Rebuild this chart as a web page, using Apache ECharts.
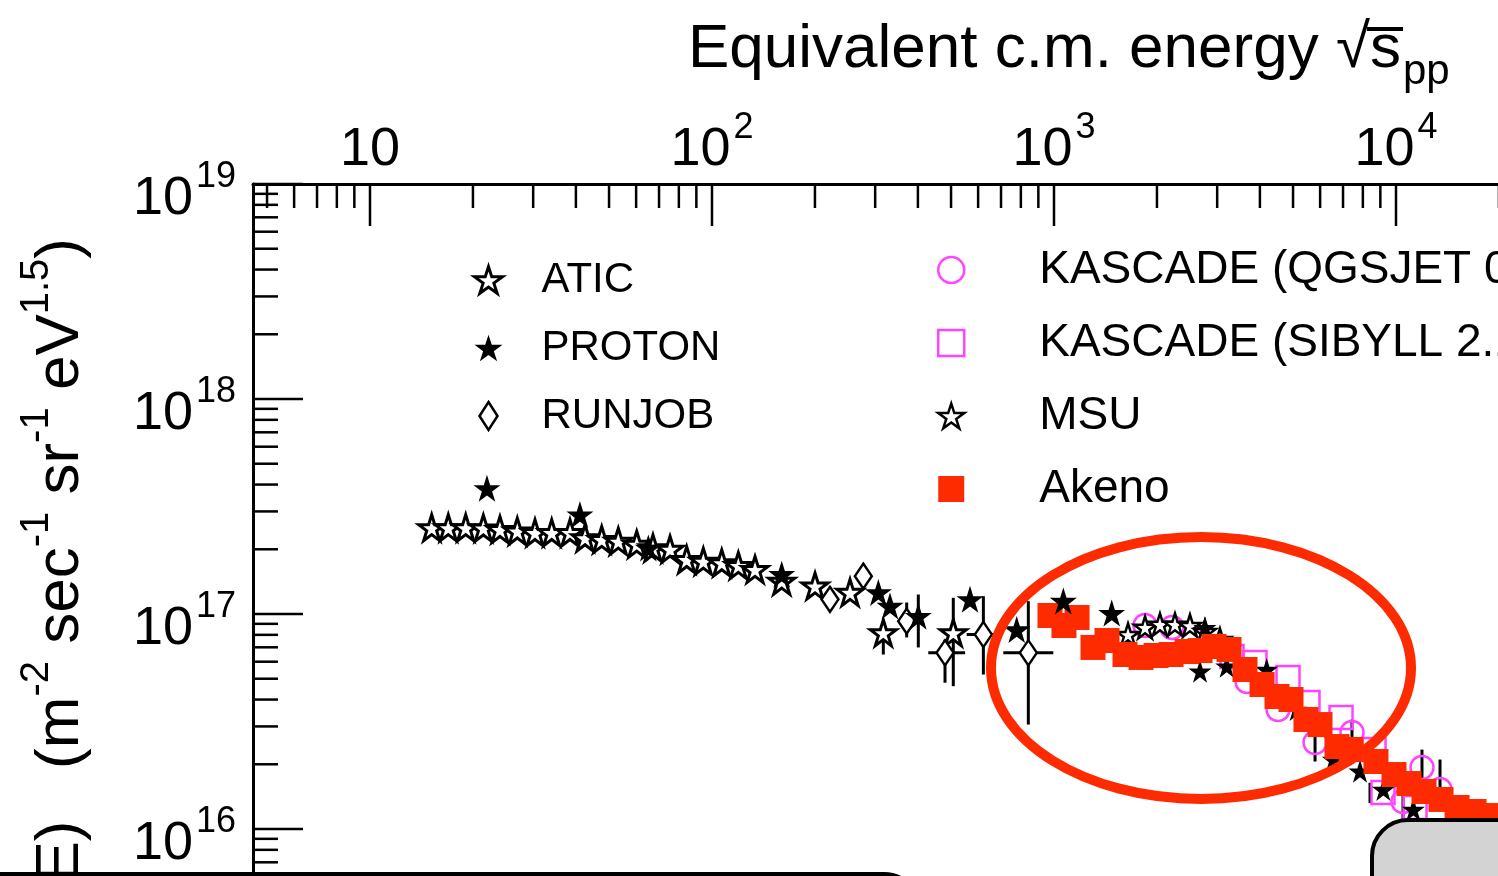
<!DOCTYPE html>
<html>
<head>
<meta charset="utf-8">
<script src="https://cdn.jsdelivr.net/npm/echarts@6.0.0/dist/echarts.min.js"></script>
<style>
  html, body { margin: 0; padding: 0; background: #ffffff; }
  #chart { width: 1498px; height: 876px; }
</style>
</head>
<body>
<div id="chart"></div>
<script>
// x: equivalent centre-of-mass energy sqrt(s_pp) [GeV], y: flux scaled by E^2.5
const FONT = '"Liberation Sans", Arial, Helvetica, sans-serif';
const X_MIN = 4.549, X_MAX = 1e5;
const Y_MIN = 1e15, Y_MAX = 1e19;

const aticData = [
  [15.15, 2.52e17], [16.94, 2.52e17], [19.05, 2.52e17], [21.45, 2.51e17], [23.99, 2.47e17],
  [26.96, 2.43e17], [30.37, 2.39e17], [33.99, 2.39e17], [38.44, 2.39e17], [42.54, 2.26e17],
  [47.59, 2.22e17], [53.21, 2.18e17], [60.24, 2.11e17], [67.21, 2.03e17], [75.39, 2.0e17],
  [84.34, 1.79e17], [94.32, 1.76e17], [106.8, 1.73e17], [119.4, 1.68e17], [133.6, 1.61e17],
  [159.9, 1.42e17], [200.1, 1.35e17], [253.3, 1.26e17], [316.9, 0.818e17], [507.6, 0.818e17]
];
const protonData = [
  [21.98, 3.84e17], [41.1, 2.90e17], [65.14, 2.03e17], [159.9, 1.53e17], [306.5, 1.26e17],
  [331.5, 1.09e17], [401.1, 0.977e17], [568.1, 1.17e17], [778, 0.847e17], [1065, 1.15e17],
  [1475, 1.01e17]
];
const kneeStarData = [
  [2763, 0.863e17], [2673, 0.542e17], [3199, 0.572e17], [4187, 0.552e17], [5124, 0.3595e17],
  [6557, 0.2104e17], [7849, 0.1857e17], [9183, 0.1527e17], [11240, 0.1232e17]
];
const runjobData = [
  [221.3, 1.17e17], [277, 1.50e17], [370.9, 0.926e17], [480.1, 0.660e17], [621.6, 0.803e17],
  [841.3, 0.660e17]
];
const msuData = [
  [1646, 0.803e17], [1846, 0.866e17], [2041, 0.894e17], [2258, 0.894e17], [2498, 0.884e17],
  [2763, 0.829e17], [3057, 0.761e17]
];
const akenoData = [
  [973.4, 0.984e17], [1069.5, 0.884e17], [1167.9, 0.963e17], [1300.2, 0.699e17], [1428.9, 0.753e17],
  [1613, 0.648e17], [1796.6, 0.628e17], [1987.8, 0.641e17], [2199.3, 0.648e17], [2449, 0.669e17],
  [2673, 0.676e17], [2937, 0.706e17], [3249, 0.684e17], [3618, 0.552e17], [4058, 0.470e17],
  [4488, 0.4133e17], [4932, 0.4003e17], [5455, 0.3231e17], [5995, 0.306e17], [6722, 0.2418e17],
  [7386, 0.2343e17], [8738, 0.2061e17], [9867, 0.1792e17], [10914, 0.1627e17], [12075, 0.1494e17],
  [13541, 0.1372e17], [15084, 0.1259e17], [16912, 0.1206e17], [18836, 0.1155e17]
];
const kascadeQgsjetData = [
  [1846, 0.884e17], [2213, 0.866e17], [3667, 0.4853e17], [4519, 0.3595e17], [5798, 0.2525e17],
  [7435, 0.2811e17], [10483, 0.1342e17], [11912, 0.1932e17], [13449, 0.1527e17]
];
const kascadeSibyllData = [
  [3315, 0.634e17], [3870, 0.5948e17], [4833, 0.5066e17], [5529, 0.3877e17], [6907, 0.330e17],
  [8626, 0.2343e17], [9162, 0.1478e17], [11366, 0.1259e17]
];
// [x, y, yLow, yHigh, xLow, xHigh]  (0 = no bar in that direction)
const errorBars = [
  [316.9, 0.818e17, 0.648e17, 0.926e17, 0, 0],
  [507.6, 0.818e17, 0.4616e17, 1.189e17, 0, 0],
  [401.1, 0.977e17, 0.699e17, 1.232e17, 0, 0],
  [370.9, 0.926e17, 0.778e17, 1.131e17, 0, 0],
  [480.1, 0.660e17, 0.479e17, 0.761e17, 429, 549.5],
  [621.6, 0.803e17, 0.523e17, 1.21e17, 555.6, 703],
  [841.3, 0.660e17, 0.306e17, 1.147e17, 710.9, 995.4],
  [5798, 0.2525e17, 0.206e17, 0.275e17, 0, 0],
  [7435, 0.2811e17, 0.245e17, 0.323e17, 0, 0],
  [8395, 0.148e17, 0.132e17, 0.164e17, 0, 0],
  [10483, 0.1342e17, 0.1107e17, 0.15e17, 0, 0],
  [11912, 0.1932e17, 0.17e17, 0.234e17, 0, 0],
  [13449, 0.1527e17, 0.14e17, 0.2104e17, 0, 0]
];

// axis tick positions
const xTickDecades = [1, 10, 100, 1000, 10000];
const yTickDecades = [1e15, 1e16, 1e17, 1e18];
const xMajorTicks = [10, 100, 1000, 10000];
const yMajorTicks = [1e16, 1e17, 1e18, 1e19];
const xMinorTicks = [];
xTickDecades.forEach(d => { for (let k = 2; k <= 9; k++) { const v = k * d; if (v > X_MIN && v < X_MAX) xMinorTicks.push(v); } });
const yMinorTicks = [];
yTickDecades.forEach(d => { for (let k = 2; k <= 9; k++) yMinorTicks.push(k * d); });

const STAR = 'path://M0,-10L2.245,-3.09L9.511,-3.09L3.633,1.18L5.878,8.09L0,3.82L-5.878,8.09L-3.633,1.18L-9.511,-3.09L-2.245,-3.09Z';
const DIAMOND = 'path://M0,-14L9,0L0,14L-9,0Z';
const MAGENTA = '#ff44ff';
const RED = '#fe2a00';

function powLabel(v, plainTen) {
  const l = Math.log10(v);
  const e = Math.round(l);
  if (Math.abs(l - e) > 1e-6) return '';
  if (plainTen && e === 1) return '{b|10}';
  return '{b|10}{s|' + e + '}';
}
// base digits pushed down, exponent lifted, by asymmetric padding
const labelRich = {
  b: { fontFamily: FONT, fontSize: 54, lineHeight: 54, padding: [31, 0, 0, 0], color: '#000' },
  s: { fontFamily: FONT, fontSize: 36, lineHeight: 36, padding: [0, 0, 14, 3], color: '#000' }
};

function seg(x1, y1, x2, y2, w) {
  return { type: 'line', shape: { x1, y1, x2, y2 }, style: { stroke: '#000', lineWidth: w } };
}

const chart = echarts.init(document.getElementById('chart'), null, { renderer: 'canvas' });

const option = {
  animation: false,
  backgroundColor: '#ffffff',
  grid: { left: 253, top: 184, right: -240, bottom: -168, outerBoundsMode: 'none', containLabel: false },
  xAxis: {
    type: 'log', logBase: 10, position: 'top', min: X_MIN, max: X_MAX,
    axisLine: { show: true, lineStyle: { color: '#000', width: 3 } },
    axisTick: { show: false }, minorTick: { show: false }, splitLine: { show: false },
    axisLabel: { margin: 22, formatter: v => powLabel(v, true), rich: labelRich, showMinLabel: true, showMaxLabel: true }
  },
  yAxis: {
    type: 'log', logBase: 10, position: 'left', min: Y_MIN, max: Y_MAX,
    axisLine: { show: true, lineStyle: { color: '#000', width: 3 } },
    axisTick: { show: false }, minorTick: { show: false }, splitLine: { show: false },
    axisLabel: { margin: 17, formatter: v => powLabel(v, false), rich: labelRich }
  },
  legend: [
    {
      orient: 'vertical', left: 473, top: 257, padding: 0, itemWidth: 28, itemHeight: 28, itemGap: 22,
      selectedMode: false,
      textStyle: { fontFamily: FONT, fontSize: 42, color: '#000', lineHeight: 46, padding: [0, 0, 0, 34] },
      data: [
        { name: 'ATIC', icon: STAR, itemStyle: { color: '#fff', borderColor: '#000', borderWidth: 3, opacity: 1 } },
        { name: 'PROTON', icon: STAR, itemStyle: { color: '#000', borderWidth: 0, opacity: 1 } },
        { name: 'RUNJOB', icon: DIAMOND, itemStyle: { color: '#fff', borderColor: '#000', borderWidth: 2.5, opacity: 1 } }
      ]
    },
    {
      orient: 'vertical', left: 937, top: 245, padding: 0, itemWidth: 26, itemHeight: 26, itemGap: 23,
      selectedMode: false,
      textStyle: { fontFamily: FONT, fontSize: 46, color: '#000', lineHeight: 50, padding: [0, 0, 0, 70] },
      data: [
        { name: 'KASCADE (QGSJET 01)', icon: 'circle', itemStyle: { color: '#fff', borderColor: MAGENTA, borderWidth: 2.5, opacity: 1 } },
        { name: 'KASCADE (SIBYLL 2.1)', icon: 'rect', itemStyle: { color: '#fff', borderColor: MAGENTA, borderWidth: 2.5, opacity: 1 } },
        { name: 'MSU', icon: STAR, itemStyle: { color: '#fff', borderColor: '#000', borderWidth: 2.5, opacity: 1 } },
        { name: 'Akeno', icon: 'rect', itemStyle: { color: RED, borderWidth: 0, opacity: 1 } }
      ]
    }
  ],
  series: [
    {
      type: 'custom', name: 'axis-ticks', silent: true, z: 10,
      data: [[100, 1e17]],
      renderItem: (params, api) => {
        const children = [];
        xMajorTicks.forEach(v => { const p = api.coord([v, Y_MAX]); children.push(seg(p[0], p[1], p[0], p[1] + 42, 2.5)); });
        xMinorTicks.forEach(v => { const p = api.coord([v, Y_MAX]); children.push(seg(p[0], p[1], p[0], p[1] + 24, 2.5)); });
        yMajorTicks.forEach(v => { const p = api.coord([X_MIN, v]); children.push(seg(p[0], p[1], p[0] + 50, p[1], 2.5)); });
        yMinorTicks.forEach(v => { const p = api.coord([X_MIN, v]); children.push(seg(p[0], p[1], p[0] + 25, p[1], 2.5)); });
        return { type: 'group', children };
      }
    },
    {
      type: 'custom', name: 'error-bars', silent: true, z: 2,
      data: errorBars,
      encode: { x: 0, y: 1 },
      renderItem: (params, api) => {
        const x = api.value(0);
        const lo = api.coord([x, api.value(2)]);
        const hi = api.coord([x, api.value(3)]);
        const children = [seg(lo[0], lo[1], hi[0], hi[1], 3)];
        if (api.value(4) > 0) {
          const c = api.value(1);
          const l = api.coord([api.value(4), c]);
          const r = api.coord([api.value(5), c]);
          children.push(seg(l[0], l[1], r[0], r[1], 3));
        }
        return { type: 'group', children };
      }
    },
    {
      type: 'scatter', name: 'KASCADE (QGSJET 01)', data: kascadeQgsjetData, silent: true, z: 3,
      symbol: 'circle', symbolSize: 23,
      itemStyle: { color: 'rgba(255,255,255,0)', borderColor: MAGENTA, borderWidth: 2.5, opacity: 1 }
    },
    {
      type: 'scatter', name: 'KASCADE (SIBYLL 2.1)', data: kascadeSibyllData, silent: true, z: 3,
      symbol: 'rect', symbolSize: 23,
      itemStyle: { color: 'rgba(255,255,255,0)', borderColor: MAGENTA, borderWidth: 2.5, opacity: 1 }
    },
    {
      type: 'scatter', name: 'MSU', data: msuData, silent: true, z: 4,
      symbol: STAR, symbolSize: 22,
      itemStyle: { color: '#fff', borderColor: '#000', borderWidth: 2.5, opacity: 1 }
    },
    {
      type: 'scatter', name: 'knee', data: kneeStarData, silent: true, z: 4,
      symbol: STAR, symbolSize: 23,
      itemStyle: { color: '#000', borderWidth: 0, opacity: 1 }
    },
    {
      type: 'scatter', name: 'Akeno', data: akenoData, silent: true, z: 5,
      symbol: 'rect', symbolSize: 25,
      itemStyle: { color: RED, borderWidth: 0, opacity: 1 }
    },
    {
      type: 'scatter', name: 'ATIC', data: aticData, silent: true, z: 6,
      symbol: STAR, symbolSize: 26,
      itemStyle: { color: '#fff', borderColor: '#000', borderWidth: 3, opacity: 1 }
    },
    {
      type: 'scatter', name: 'RUNJOB', data: runjobData, silent: true, z: 6,
      symbol: DIAMOND, symbolSize: [17, 25],
      itemStyle: { color: '#fff', borderColor: '#000', borderWidth: 2.5, opacity: 1 }
    },
    {
      type: 'scatter', name: 'PROTON', data: protonData, silent: true, z: 7,
      symbol: STAR, symbolSize: 27,
      itemStyle: { color: '#000', borderWidth: 0, opacity: 1 }
    }
  ],
  graphic: [
    {
      type: 'text', x: 688, y: 19, z: 50, silent: true,
      style: {
        text: '{t|Equivalent c.m. energy \u221As\u0305}{sub|pp}',
        align: 'left', verticalAlign: 'top',
        rich: {
          t: { fontFamily: FONT, fontSize: 62, lineHeight: 62, fill: '#000' },
          sub: { fontFamily: FONT, fontSize: 42, lineHeight: 42, padding: [44, 0, 0, 2], fill: '#000' }
        }
      }
    },
    {
      type: 'text', x: 61, y: 238, rotation: Math.PI / 2, z: 50, silent: true,
      style: {
        text: '{t|E}{s|2.5}{t| F(E)   (m}{s|-2}{t| sec}{s|-1}{t| sr}{s|-1}{t| eV}{s|1.5}{t|)}',
        align: 'right', verticalAlign: 'middle',
        rich: {
          t: { fontFamily: FONT, fontSize: 62, lineHeight: 62, fill: '#000' },
          s: { fontFamily: FONT, fontSize: 40, lineHeight: 40, padding: [0, 0, 48, 0], fill: '#000' }
        }
      }
    },
    {
      type: 'ellipse', z: 60, silent: true,
      shape: { cx: 1201, cy: 668, rx: 210, ry: 131 },
      style: { fill: null, stroke: RED, lineWidth: 10 }
    },
    {
      type: 'rect', z: 60, silent: true,
      shape: { x: 1372, y: 820, width: 320, height: 200, r: 36 },
      style: { fill: '#d3d3d3', stroke: '#000', lineWidth: 4 }
    },
    {
      type: 'rect', z: 60, silent: true,
      shape: { x: -60, y: 874, width: 980, height: 120, r: 36 },
      style: { fill: '#ffffff', stroke: '#000', lineWidth: 4 }
    }
  ]
};

chart.setOption(option);
</script>
</body>
</html>
